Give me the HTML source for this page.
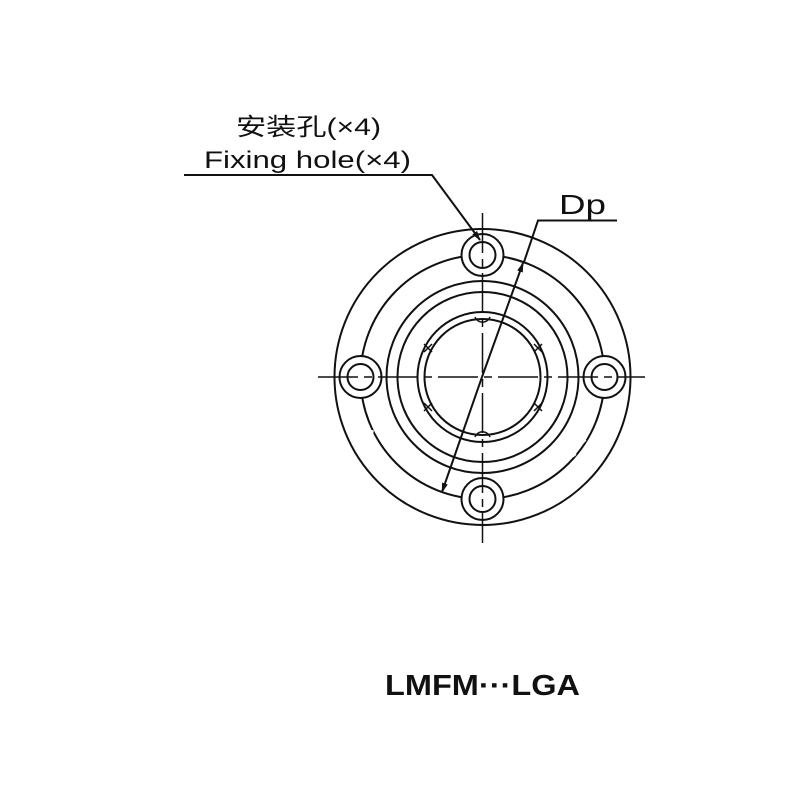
<!DOCTYPE html>
<html><head><meta charset="utf-8"><style>
html,body{margin:0;padding:0;background:#fff}
</style></head><body>
<svg width="800" height="800" viewBox="0 0 800 800" xmlns="http://www.w3.org/2000/svg">
<defs><marker id="ar" markerWidth="10" markerHeight="8" refX="9" refY="4" orient="auto" markerUnits="userSpaceOnUse"><path d="M0,1 L10,4 L0,7 z" fill="#111"/></marker></defs>
<g fill="none" stroke="#111" stroke-width="2">
<circle cx="482.5" cy="377" r="148"/>
<circle cx="482.5" cy="377" r="122"/>
<g stroke="#fff" stroke-width="4">
<path d="M372,430 l-2,8 M385,455 l-5,6 M397,470 l-5,5 M570,450 l5,6 M580,437 l5,5"/>
</g>
<circle cx="482.5" cy="377" r="96"/>
<circle cx="482.5" cy="377" r="85"/>
<circle cx="482.5" cy="377" r="65"/>
<circle cx="482.5" cy="377" r="58"/>
<g stroke-width="2">
<circle cx="482.5" cy="255" r="21" fill="#fff"/><circle cx="482.5" cy="255" r="13"/>
<circle cx="482.5" cy="499" r="21" fill="#fff"/><circle cx="482.5" cy="499" r="13"/>
<circle cx="360.5" cy="377" r="21" fill="#fff"/><circle cx="360.5" cy="377" r="13"/>
<circle cx="604.5" cy="377" r="21" fill="#fff"/><circle cx="604.5" cy="377" r="13"/>
</g>
<g stroke-width="1.5">
<path d="M475,317 a8,8 0 0 0 15,0"/><path d="M475,437 a8,8 0 0 1 15,0"/>
<path d="M424,344 l8,8 M432,344 l-8,8"/><path d="M534,344 l8,8 M542,344 l-8,8"/>
<path d="M424,403 l8,8 M432,403 l-8,8"/><path d="M534,403 l8,8 M542,403 l-8,8"/>
</g>
<path d="M318,377 H645" stroke-width="1.5" stroke-dasharray="40 6 8 6"/>
<path d="M482.5,213 V543" stroke-width="1.5" stroke-dasharray="40 6 8 6"/>
<path d="M184,175 H432 L480,240" marker-end="url(#ar)"/>
<path d="M617,220.5 H538 L524,262"/>
<path d="M482,377 L523,263" marker-end="url(#ar)"/>
<path d="M482,377 L442,492" marker-end="url(#ar)"/>
</g>
<g font-family="'Liberation Sans','Noto Sans CJK SC',sans-serif" fill="#111">
<text x="236" y="135" font-size="24" textLength="145" lengthAdjust="spacingAndGlyphs">安装孔(×4)</text>
<text x="204" y="168" font-size="24" textLength="207" lengthAdjust="spacingAndGlyphs">Fixing hole(×4)</text>
<text x="559" y="214" font-size="28" textLength="47" lengthAdjust="spacingAndGlyphs">Dp</text>
<text x="385" y="695" font-size="29" font-weight="bold" textLength="195" lengthAdjust="spacingAndGlyphs">LMFM···LGA</text>
</g>
</svg>
</body></html>
